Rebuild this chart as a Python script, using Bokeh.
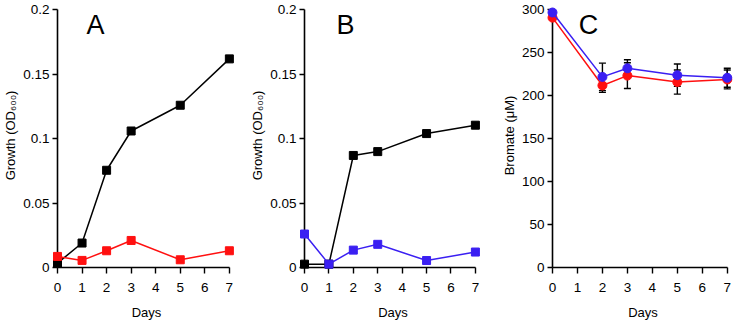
from bokeh.plotting import figure
from bokeh.layouts import row
from bokeh.models import Range1d, FixedTicker, ColumnDataSource, Whisker, Label
from bokeh.embed import file_html
from bokeh.resources import INLINE

# ---- data ----
days = [0, 1, 2, 3, 5, 7]
a_black = [0.0034, 0.019, 0.0755, 0.106, 0.126, 0.162]
a_red = [0.0086, 0.0055, 0.013, 0.021, 0.006, 0.013]

b_black = [0.0026, 0.0026, 0.087, 0.090, 0.104, 0.1105]
b_blue = [0.026, 0.0026, 0.0135, 0.018, 0.0054, 0.012]

c_days = [0, 2, 3, 5, 7]
c_blue = [297, 222, 232, 224, 221]
c_red = [291, 212, 223.5, 216, 219]
c_blue_err = [2, 16, 10, 13, 11]
c_red_err = [2, 8, 15, 14, 11]

growth_ticks = [0, 0.05, 0.1, 0.15, 0.2]
growth_tick_labels = {0: "0", 0.05: "0.05", 0.1: "0.1", 0.15: "0.15", 0.2: "0.2"}
bromate_ticks = [0, 50, 100, 150, 200, 250, 300]
day_ticks = [0, 1, 2, 3, 4, 5, 6, 7]

RED = "#ff1010"
BLUE = "#3a1ff2"
FONT = "Liberation Sans"


def make_fig(ymax, yticks, ylabel, letter, letter_x, left, fw, right, yoverride=None):
    p = figure(width=left + fw + right, height=322, output_backend="svg", toolbar_location=None,
               x_range=Range1d(0, 7.25), y_range=Range1d(0, ymax * 1.025),
               frame_width=fw,
               min_border_left=left, min_border_right=right, min_border_top=3, min_border_bottom=0)
    p.outline_line_color = None
    p.grid.visible = False
    p.background_fill_color = "white"
    p.border_fill_color = "white"
    xa = p.xaxis[0]
    ya = p.yaxis[0]
    xa.ticker = FixedTicker(ticks=day_ticks)
    ya.ticker = FixedTicker(ticks=yticks)
    if yoverride:
        ya.major_label_overrides = yoverride
    xa.bounds = (0, 7)
    ya.bounds = (0, ymax)
    for ax in (xa, ya):
        ax.axis_line_color = "black"
        ax.axis_line_width = 1.6
        ax.major_tick_line_width = 1.4
        ax.major_tick_out = 5
        ax.major_tick_in = 0
        ax.minor_tick_line_color = None
        ax.major_label_text_font = FONT
        ax.major_label_text_font_size = "13.5px"
        ax.major_label_text_color = "black"
        ax.axis_label_text_font = FONT
        ax.axis_label_text_font_size = "13px"
        ax.axis_label_text_font_style = "normal"
        ax.axis_label_text_color = "black"
    xa.major_tick_out = 6
    xa.axis_label = "Days"
    xa.major_label_standoff = 9
    xa.axis_label_standoff = 10
    ya.axis_label = ylabel
    ya.major_label_standoff = 3
    ya.axis_label_standoff = 2
    p.add_layout(Label(x=letter_x, y=ymax, text=letter, text_font=FONT, text_font_size="27px",
                       text_align="center", text_baseline="top", text_color="black"))
    return p


def series(p, x, y, color, marker, size):
    p.line(x, y, color=color, line_width=1.5, level="overlay")
    p.scatter(x, y, marker=marker, size=size, color=color, level="overlay")


# Panel A
pA = make_fig(0.2, growth_ticks, "Growth (OD\u2086\u2080\u2080)", "A", 1.55, 57, 178, 11,
              growth_tick_labels)
series(pA, days, a_black, "black", "square", 8)
series(pA, days, a_red, RED, "square", 8)

# Panel B
pB = make_fig(0.2, growth_ticks, "Growth (OD\u2086\u2080\u2080)", "B", 1.68, 58, 177, 10,
              growth_tick_labels)
series(pB, days, b_black, "black", "square", 8)
series(pB, days, b_blue, BLUE, "square", 8)

# Panel C
pC = make_fig(300, bromate_ticks, "Bromate (\u03bcM)", "C", 1.44, 61, 181, 5)
srcB = ColumnDataSource(dict(x=c_days, lo=[v - e for v, e in zip(c_blue, c_blue_err)],
                             hi=[v + e for v, e in zip(c_blue, c_blue_err)]))
srcR = ColumnDataSource(dict(x=c_days, lo=[v - e for v, e in zip(c_red, c_red_err)],
                             hi=[v + e for v, e in zip(c_red, c_red_err)]))
for s in (srcB, srcR):
    w = Whisker(base="x", lower="lo", upper="hi", source=s, line_color="black", line_width=1.4,
                level="annotation")
    w.upper_head.size = 7
    w.lower_head.size = 7
    w.upper_head.line_width = 1.4
    w.lower_head.line_width = 1.4
    pC.add_layout(w)
series(pC, c_days, c_red, RED, "circle", 9)
series(pC, c_days, c_blue, BLUE, "circle", 9)

layout = row(pA, pB, pC)
open("out.html", "w").write(file_html(layout, INLINE))
